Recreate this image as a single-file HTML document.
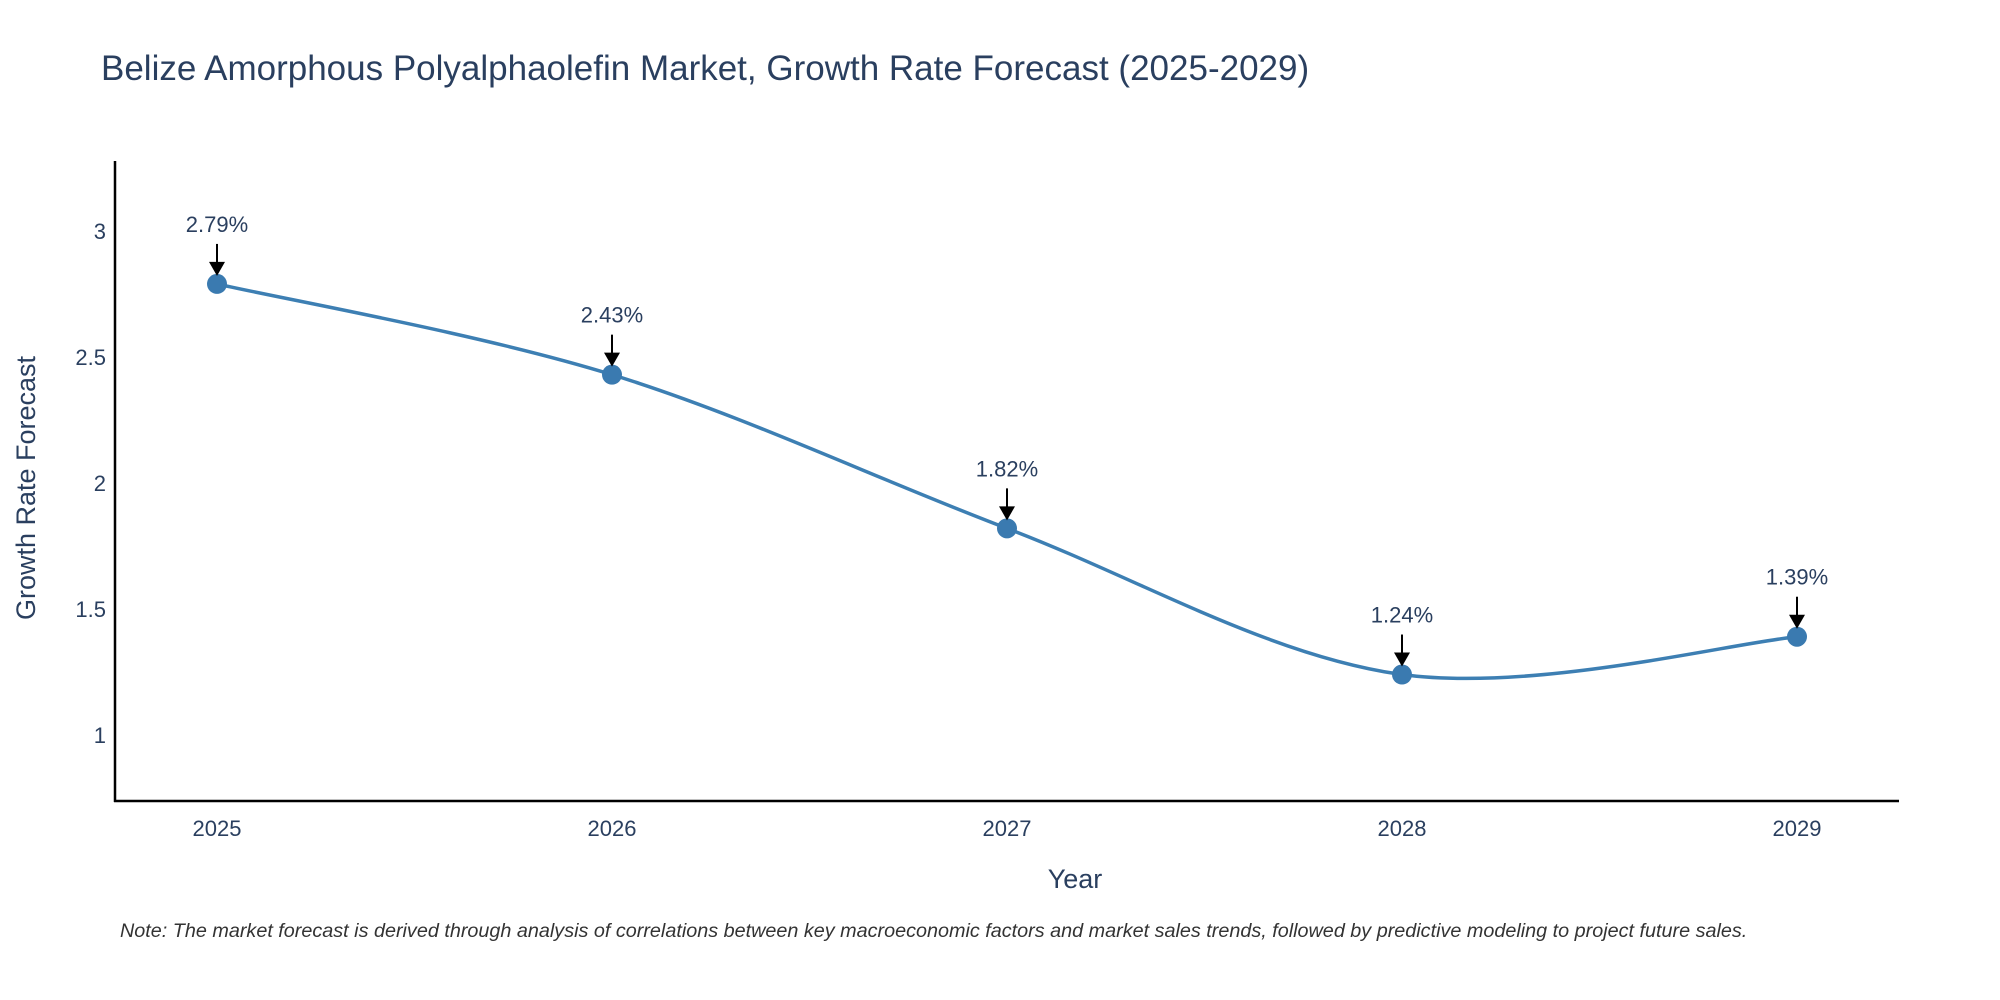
<!DOCTYPE html>
<html><head><meta charset="utf-8"><style>
html,body{margin:0;padding:0;background:#fff;}
svg{display:block;font-family:"Liberation Sans",sans-serif;}
</style></head><body>
<svg id="chart" width="2000" height="1000" viewBox="0 0 2000 1000">
<text x="101" y="80" font-size="35" fill="#2a3f5f">Belize Amorphous Polyalphaolefin Market, Growth Rate Forecast (2025-2029)</text>
<g id="plot"></g>
<text x="1075" y="888" font-size="27" fill="#2a3f5f" text-anchor="middle">Year</text>
<text transform="translate(35,488) rotate(-90)" font-size="27" fill="#2a3f5f" text-anchor="middle">Growth Rate Forecast</text>
<text x="120" y="937" font-size="19.8" font-style="italic" fill="#333">Note: The market forecast is derived through analysis of correlations between key macroeconomic factors and market sales trends, followed by predictive modeling to project future sales.</text>
</svg>
<script>
const categories = ["2025","2026","2027","2028","2029"];
const values = [2.79, 2.43, 1.82, 1.24, 1.39];
const labels = ["2.79%","2.43%","1.82%","1.24%","1.39%"];
const yTicks = [1, 1.5, 2, 2.5, 3];
const yTickLabels = ["1","1.5","2","2.5","3"];

const NS="http://www.w3.org/2000/svg";
const g=document.getElementById('plot');
const x0=217,x1=1797;
const xs=i=>x0+(x1-x0)*i/(categories.length-1);
const ys=v=>735-(v-1)*252;
function mk(t,a){const e=document.createElementNS(NS,t);for(const k in a)e.setAttribute(k,a[k]);g.appendChild(e);return e;}

let e=mk('line',{x1:115,y1:161,x2:115,y2:802,stroke:'#000','stroke-width':2.5});


e=mk('line',{x1:114,y1:801,x2:1899,y2:801,stroke:'#000','stroke-width':2.5});



yTicks.forEach((v,i)=>{
  const t=mk('text',{x:106,y:ys(v)+8,'font-size':22,fill:'#2a3f5f','text-anchor':'end'});
  t.textContent=yTickLabels[i];
  
  
});
categories.forEach((c,i)=>{
  const t=mk('text',{x:xs(i),y:836,'font-size':22,fill:'#2a3f5f','text-anchor':'middle'});
  t.textContent=c;
  
  
});

const pts=values.map((v,i)=>[xs(i),ys(v)]);
let d='M'+pts[0][0]+','+pts[0][1];
for(let i=0;i<pts.length-1;i++){
  const p0=pts[Math.max(0,i-1)],p1=pts[i],p2=pts[i+1],p3=pts[Math.min(pts.length-1,i+2)];
  const c1=[p1[0]+(p2[0]-p0[0])/6,p1[1]+(p2[1]-p0[1])/6];
  const c2=[p2[0]-(p3[0]-p1[0])/6,p2[1]-(p3[1]-p1[1])/6];
  d+=` C${c1[0]},${c1[1]} ${c2[0]},${c2[1]} ${p2[0]},${p2[1]}`;
}
e=mk('path',{d:d,fill:'none',stroke:'#3d7fb3','stroke-width':3.5});



pts.forEach((p,i)=>{
  const c=mk('circle',{cx:p[0],cy:p[1],r:10,fill:'#3a7ab0'});
  
  
  const a=mk('line',{x1:p[0],y1:p[1]-40,x2:p[0],y2:p[1]-20,stroke:'#000','stroke-width':2});
  
  
  const h=mk('polygon',{points:`${p[0]-8},${p[1]-22} ${p[0]+8},${p[1]-22} ${p[0]},${p[1]-8}`,fill:'#000'});
  
  
  const t=mk('text',{x:p[0],y:p[1]-52,'font-size':22,fill:'#2a3f5f','text-anchor':'middle'});
  t.textContent=labels[i];
  
  
});
</script>
</body></html>
